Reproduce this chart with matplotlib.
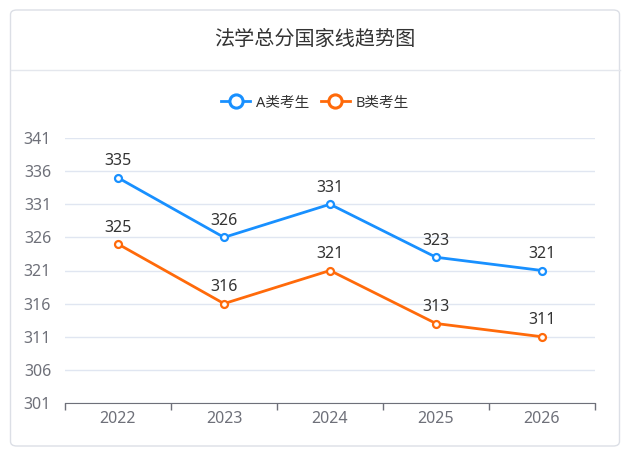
import matplotlib
matplotlib.use('Agg')
import matplotlib.pyplot as plt
from matplotlib.patches import FancyBboxPatch
from matplotlib.lines import Line2D

plt.rcParams['font.family'] = ['Noto Sans', 'Noto Sans CJK SC']

# data
years = ['2022', '2023', '2024', '2025', '2026']
scores_a = [335, 326, 331, 323, 321]
scores_b = [325, 316, 321, 313, 311]
yticks = [301, 306, 311, 316, 321, 326, 331, 336, 341]
title = '法学总分国家线趋势图'
names = ['A类考生', 'B类考生']
colors = ['#1890ff', '#ff6a0a']

W, H = 630, 454
fig = plt.figure(figsize=(W / 100, H / 100), dpi=100)

# card background
card = FancyBboxPatch((10.5 / W, 1 - 446 / H), 609 / W, 436 / H,
                      boxstyle='round,pad=0,rounding_size=0.01',
                      transform=fig.transFigure, facecolor='white',
                      edgecolor='#dcdfe6', linewidth=1, zorder=-5)
fig.patches.append(card)
fig.add_artist(Line2D([10.5 / W, 619.5 / W], [1 - 70 / H, 1 - 70 / H],
                      transform=fig.transFigure, color='#e4e7ed', lw=1))
fig.text(315 / W, 1 - 40 / H, title, ha='center', va='center',
         fontsize=14.5, color='#333333')

ax = fig.add_axes([65 / W, 1 - 403 / H, 530 / W, 265 / H])
ax.set_zorder(2)
ax.patch.set_alpha(0)
x = list(range(len(years)))
for vals, c, n in zip([scores_a, scores_b], colors, names):
    ax.plot(x, vals, color=c, lw=2, marker='o', ms=5, mfc='white',
            mec=c, mew=1.6, label=n, zorder=3, clip_on=False)
    for xi, v in zip(x, vals):
        ax.annotate(str(v), (xi, v), xytext=(0, 6), textcoords='offset points',
                    ha='center', va='bottom', fontsize=11.5, color='#333333')

ax.set_xlim(-0.5, len(years) - 0.5)
ax.set_ylim(301, 341)
ax.set_yticks(yticks)
ax.set_xticks(x)
ax.set_xticklabels(years)
ax.set_xticks([i - 0.5 for i in range(len(years) + 1)], minor=True)
ax.tick_params(axis='x', which='major', length=0, pad=6, labelsize=11.5,
               labelcolor='#6e7079')
ax.tick_params(axis='x', which='minor', length=5, color='#6e7079', width=1,
               direction='out')
ax.tick_params(axis='y', length=0, pad=10, labelsize=11.5, labelcolor='#6e7079')
ax.grid(axis='y', color='#e0e6f1', lw=1)
ax.set_axisbelow(True)
for s in ['top', 'right', 'left']:
    ax.spines[s].set_visible(False)
ax.spines['bottom'].set_color('#6e7079')

handles = [Line2D([0], [0], color=c, lw=2, marker='o', ms=9.5, mfc='white',
                  mec=c, mew=2.2) for c in colors]
fig.legend(handles, names, loc='center', bbox_to_anchor=(315 / W, 1 - 103 / H),
           ncol=2, frameon=False, fontsize=10.5, handlelength=2.0,
           handletextpad=0.4, columnspacing=0.8, labelcolor='#333333')

fig.savefig('out.png', dpi=100)
